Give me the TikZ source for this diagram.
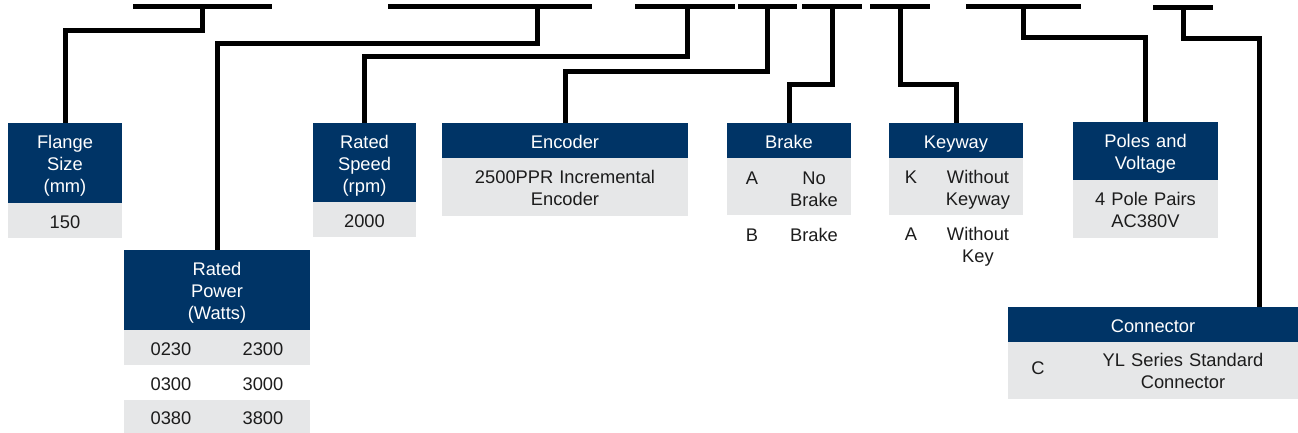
\documentclass[tikz,border=0pt]{standalone}
\usepackage{fontspec}
\setmainfont{Liberation Sans}
\definecolor{navyhead}{RGB}{0, 52, 102}
\definecolor{greycell}{RGB}{230, 231, 232}
\definecolor{inkdark}{RGB}{28, 28, 28}
\usetikzlibrary{positioning}

\begin{document}
\begin{tikzpicture}[
      x=1pt, y=-1pt,
      every node/.style={inner sep=0pt, outer sep=0pt, font=\fontsize{18.3}{22}\selectfont},
      cellstrut/.style={execute at begin node={\rule[-3.9pt]{0pt}{22.9pt}}, execute at end node={\rule[-3.9pt]{0pt}{3.9pt}}},
      headbox/.style={rectangle, fill=navyhead, text=white, align=center, anchor=north west, minimum width=#1, text width=#1, cellstrut},
      valbox/.style={rectangle, fill=greycell, text=inkdark, align=center, minimum width=#1, text width=#1, cellstrut},
      rowbox/.style={rectangle, text=inkdark, align=center, minimum width=#1, text width=#1, cellstrut},
      codebar/.style={rectangle, fill=black, minimum height=5},
      link/.style={draw=black, line width=5}
    ]
      \useasboundingbox (0,0) rectangle (1298,433);

      % code segments
      \node[codebar, minimum width=139] (b1) at (202.5,6.7) {};
      \node[codebar, minimum width=204] (b2) at (490,6.7) {};
      \node[codebar, minimum width=100] (b3) at (685,6.7) {};
      \node[codebar, minimum width=59] (b4) at (767.5,6.7) {};
      \node[codebar, minimum width=60] (b5) at (832,6.7) {};
      \node[codebar, minimum width=60] (b6) at (900,6.7) {};
      \node[codebar, minimum width=115] (b7) at (1023.5,6.7) {};
      \node[codebar, minimum width=60] (b8) at (1183,7.2) {};

      % fields
      \node[headbox=114, minimum height=80] (flange) at (8,123) {Flange\\Size\\(mm)};
      \node[valbox=114, minimum height=35, below=0pt of flange] (flangeval) {150};

      \node[headbox=186, minimum height=80] (power) at (124,250) {Rated\\Power\\(Watts)};
      \node[valbox=186, minimum height=35, below=0pt of power] (pow1) {\makebox[92pt]{0230}\makebox[92pt]{2300}};
      \node[rowbox=186, minimum height=35, below=0pt of pow1] (pow2) {\makebox[92pt]{0300}\makebox[92pt]{3000}};
      \node[valbox=186, minimum height=33, below=0pt of pow2] (pow3) {\makebox[92pt]{0380}\makebox[92pt]{3800}};

      \node[headbox=103, minimum height=79] (speed) at (313,123) {Rated\\Speed\\(rpm)};
      \node[valbox=103, minimum height=35, below=0pt of speed] (speedval) {2000};

      \node[headbox=246, minimum height=35] (encoder) at (442,123) {Encoder};
      \node[valbox=246, minimum height=58, below=0pt of encoder] (encoderval) {2500PPR Incremental\\Encoder};

      \node[headbox=124, minimum height=35] (brake) at (727,123) {Brake};
      \node[valbox=124, minimum height=57, below=0pt of brake] (brakeA) {\makebox[50pt]{A}\parbox[t]{74pt}{\centering No\\Brake}};
      \node[rowbox=124, minimum height=37, below=0pt of brakeA] (brakeB) {\makebox[50pt]{B}\makebox[74pt]{Brake}};

      \node[headbox=134, minimum height=35] (keyway) at (889,123) {Keyway};
      \node[valbox=134, minimum height=57, below=0pt of keyway] (keywayK) {\makebox[44pt]{K}\parbox[t]{90pt}{\centering Without\\Keyway}};
      \node[rowbox=134, minimum height=57, below=0pt of keywayK] (keywayA) {\makebox[44pt]{A}\parbox[t]{90pt}{\centering Without\\Key}};

      \node[headbox=145, minimum height=58] (poles) at (1073,122) {Poles and\\Voltage};
      \node[valbox=145, minimum height=58, below=0pt of poles] (polesval) {4 Pole Pairs\\AC380V};

      \node[headbox=290, minimum height=35] (connector) at (1008,307) {Connector};
      \node[valbox=290, minimum height=57, below=0pt of connector] (connectorC) {\makebox[60pt]{C}\parbox[c]{230pt}{\centering YL Series Standard\\Connector}};

      % leader lines
      \draw[link] (b1.center) -- ++(0,24) -| (flange.north);
      \draw[link] ([xshift=47]b2.center) -- ++(0,37) -| (power.north);
      \draw[link] ([xshift=2]b3.center) -- ++(0,50) -| (speed.north);
      \draw[link] (b4.center) -- ++(0,65) -| (encoder.north);
      \draw[link] (b5.center) -- ++(0,78) -| (brake.north);
      \draw[link] (b6.center) -- ++(0,78) -| (keyway.north);
      \draw[link] (b7.center) -- ++(0,31) -| (poles.north);
      \draw[link] (b8.center) -- ++(0,31) -| ([xshift=106]connector.north);
    \end{tikzpicture}
\end{document}
